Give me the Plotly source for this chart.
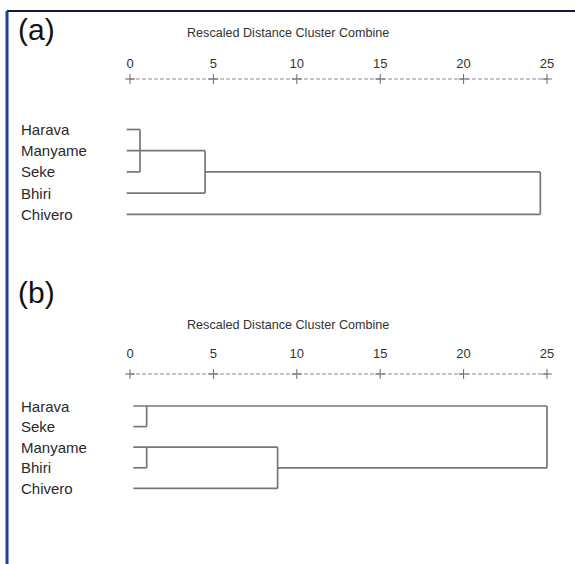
import plotly.graph_objects as go

# ---------------- data ----------------
ticks = [0, 5, 10, 15, 20, 25]
tick_labels = ["0", "5", "10", "15", "20", "25"]

leaves_a = ["Harava", "Manyame", "Seke", "Bhiri", "Chivero"]
# merge levels (rescaled distance) for panel (a)
a_h1 = 0.6    # Harava + Manyame + Seke
a_h2 = 4.5    # + Bhiri
a_h3 = 24.6   # + Chivero
a_start = -0.2

leaves_b = ["Harava", "Seke", "Manyame", "Bhiri", "Chivero"]
# merge levels for panel (b)
b_h1 = 1.0    # Harava + Seke
b_h2 = 1.0    # Manyame + Bhiri
b_h3 = 8.85   # + Chivero
b_h4 = 25.0   # all
b_start = 0.2

title_text = "Rescaled Distance Cluster Combine"

# ---------------- layout helpers ----------------
W, H = 575, 564
FONT = "Liberation Sans, Arial, sans-serif"
LINE_COL = "#767676"
TEXT_COL = "#2a2a2a"


def py(p):
    return 1 - p / H


def seg(xs, ys, x0, y0, x1, y1):
    xs += [x0, x1, None]
    ys += [y0, y1, None]


# segments for (a), built from the merge levels and leaf indices
ax_x, ax_y = [], []
seg(ax_x, ax_y, a_start, 0, a_h1, 0)
seg(ax_x, ax_y, a_start, 2, a_h1, 2)
seg(ax_x, ax_y, a_h1, 0, a_h1, 2)
seg(ax_x, ax_y, a_start, 1, a_h2, 1)
seg(ax_x, ax_y, a_start, 3, a_h2, 3)
seg(ax_x, ax_y, a_h2, 1, a_h2, 3)
seg(ax_x, ax_y, a_h2, 2, a_h3, 2)
seg(ax_x, ax_y, a_start, 4, a_h3, 4)
seg(ax_x, ax_y, a_h3, 2, a_h3, 4)

# segments for (b)
bx_x, bx_y = [], []
seg(bx_x, bx_y, b_start, 0, b_h4, 0)
seg(bx_x, bx_y, b_start, 1, b_h1, 1)
seg(bx_x, bx_y, b_h1, 0, b_h1, 1)
seg(bx_x, bx_y, b_start, 2, b_h3, 2)
seg(bx_x, bx_y, b_start, 3, b_h2, 3)
seg(bx_x, bx_y, b_h2, 2, b_h2, 3)
seg(bx_x, bx_y, b_start, 4, b_h3, 4)
seg(bx_x, bx_y, b_h3, 2, b_h3, 4)
seg(bx_x, bx_y, b_h3, 3, b_h4, 3)
seg(bx_x, bx_y, b_h4, 0, b_h4, 3)

# pixel geometry of each panel
panels = {
    "a": dict(axis=79, leaf0=129.5, step=21.2, bottom=245, title=33,
              label=29, ticklen=2),
    "b": dict(axis=374, leaf0=406, step=20.6, bottom=520, title=325,
              label=292, ticklen=7),
}


def yrange(p):
    top_val = -(p["leaf0"] - (p["axis"] - 3)) / p["step"]
    bot_val = (p["bottom"] - p["leaf0"]) / p["step"]
    axis_val = -(p["leaf0"] - p["axis"]) / p["step"]
    return [bot_val, top_val], axis_val


fig = go.Figure()

ra, axis_a = yrange(panels["a"])
rb, axis_b = yrange(panels["b"])

for xs, ys, xa, ya, axis_val in [
    (ax_x, ax_y, "x", "y", axis_a),
    (bx_x, bx_y, "x2", "y2", axis_b),
]:
    # dashed scale line with "+" marks at the ticks
    fig.add_trace(go.Scatter(
        x=[ticks[0], ticks[-1]], y=[axis_val, axis_val], mode="lines",
        line=dict(color="#8a8a8a", width=1, dash="4px,2px"),
        xaxis=xa, yaxis=ya, hoverinfo="skip", showlegend=False))
    fig.add_trace(go.Scatter(
        x=ticks, y=[axis_val] * len(ticks), mode="markers",
        marker=dict(symbol="cross-thin", size=7,
                    line=dict(color="#666666", width=1)),
        xaxis=xa, yaxis=ya, hoverinfo="skip", showlegend=False,
        cliponaxis=False))
    # dendrogram
    fig.add_trace(go.Scatter(
        x=xs, y=ys, mode="lines",
        line=dict(color=LINE_COL, width=1.7),
        xaxis=xa, yaxis=ya, hoverinfo="skip", showlegend=False,
        connectgaps=False))

# 0 sits at x=130 px and 25 at x=547 px; pad the range so edge lines are not clipped
PX0, PX25 = 130, 547
PAD = 0.6
ppu = (PX25 - PX0) / (ticks[-1] - ticks[0])
x_range = [ticks[0] - PAD, ticks[-1] + PAD]
x_dom = [(PX0 - PAD * ppu) / W, (PX25 + PAD * ppu) / W]


def xaxis_cfg(anchor, ticklen):
    return dict(
        domain=x_dom, anchor=anchor,
        range=x_range, tickvals=ticks, ticktext=tick_labels,
        side="top", showgrid=False, zeroline=False, showline=False,
        ticks="outside", ticklen=ticklen, tickcolor="rgba(0,0,0,0)",
        tickfont=dict(family=FONT, size=13, color="#333333"),
        fixedrange=True,
    )


yaxis_common = dict(showgrid=False, zeroline=False, showline=False,
                    showticklabels=False, ticks="", fixedrange=True)

pa, pb = panels["a"], panels["b"]
fig.update_layout(
    width=W, height=H,
    margin=dict(l=0, r=0, t=0, b=0),
    paper_bgcolor="white", plot_bgcolor="white",
    xaxis=xaxis_cfg("y", pa["ticklen"]),
    yaxis=dict(domain=[py(pa["bottom"]), py(pa["axis"] - 3)], range=ra,
               anchor="x", **yaxis_common),
    xaxis2=xaxis_cfg("y2", pb["ticklen"]),
    yaxis2=dict(domain=[py(pb["bottom"]), py(pb["axis"] - 3)], range=rb,
                anchor="x2", **yaxis_common),
    showlegend=False,
)

annotations = []
for key, leaves, yref in [("a", leaves_a, "y"), ("b", leaves_b, "y2")]:
    p = panels[key]
    annotations.append(dict(
        text="(" + key + ")", x=16 / W, y=py(p["label"]), xref="paper",
        yref="paper", xanchor="left", yanchor="middle", showarrow=False,
        font=dict(family=FONT, size=30, color="#111111")))
    annotations.append(dict(
        text=title_text, x=288 / W, y=py(p["title"]), xref="paper",
        yref="paper", xanchor="center", yanchor="middle", showarrow=False,
        font=dict(family=FONT, size=12.6, color="#333333")))
    for i, name in enumerate(leaves):
        annotations.append(dict(
            text=name, x=19 / W, y=i, xref="paper", yref=yref,
            xanchor="left", yanchor="middle", showarrow=False,
            font=dict(family=FONT, size=15, color=TEXT_COL)))
fig.update_layout(annotations=annotations)

# frame of the figure (top and left edges only)
fig.add_shape(type="line", xref="paper", yref="paper",
              x0=7 / W, x1=1, y0=py(11), y1=py(11),
              line=dict(color="#14183a", width=2))
fig.add_shape(type="line", xref="paper", yref="paper",
              x0=7 / W, x1=7 / W, y0=py(11), y1=0,
              line=dict(color="#1f3fa0", width=3))

fig.write_html("out.html")
